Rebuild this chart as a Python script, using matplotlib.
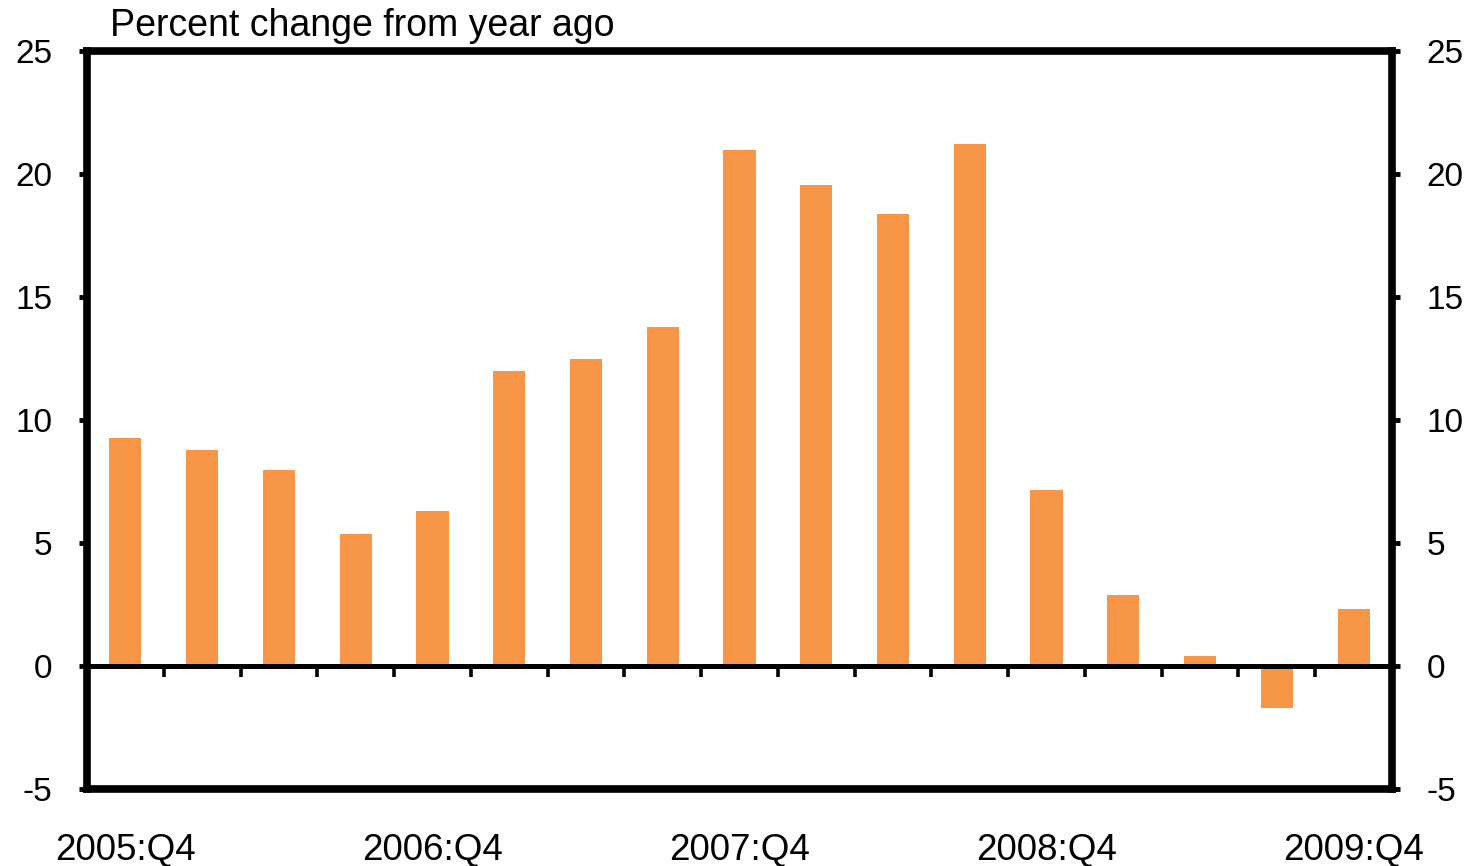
import numpy as np
import matplotlib.pyplot as plt

plt.rcParams['font.family'] = ['Liberation Sans', 'DejaVu Sans']
plt.rcParams['axes.unicode_minus'] = False

# Year-over-year percent change, 2005:Q4 .. 2009:Q4
quarters = ['2005:Q4', '2006:Q1', '2006:Q2', '2006:Q3', '2006:Q4',
            '2007:Q1', '2007:Q2', '2007:Q3', '2007:Q4',
            '2008:Q1', '2008:Q2', '2008:Q3', '2008:Q4',
            '2009:Q1', '2009:Q2', '2009:Q3', '2009:Q4']
pct_change = [9.27, 8.78, 7.97, 5.37, 6.30, 11.99, 12.48, 13.78, 20.98,
              19.55, 18.37, 21.22, 7.15, 2.89, 0.41, -1.71, 2.32]
yticks = [-5, 0, 5, 10, 15, 20, 25]

x = np.arange(len(quarters))

fig = plt.figure(figsize=(14.79, 8.66), dpi=100)
ax = fig.add_axes([0.0588, 0.0889, 0.8824, 0.8522])

ax.bar(x, pct_change, width=0.42, color='#F79646', zorder=2)
ax.axhline(0, color='black', lw=3.6, zorder=3)
# small tick marks on the zero line between quarters
ax.vlines(x[:-1] + 0.5, -0.45, 0, color='black', lw=2.6, zorder=3)

ax.set_xlim(-0.5, len(quarters) - 0.5)
ax.set_ylim(-5, 25)

for sp in ax.spines.values():
    sp.set_linewidth(5.5)
    sp.set_capstyle('projecting')

ax.set_yticks(yticks)
ax.tick_params(axis='y', which='both', left=True, right=True,
               labelleft=True, labelright=True, direction='out',
               length=6, width=3.5, pad=19, labelsize=24)
ax.set_xticks(x[::4])
ax.set_xticklabels(quarters[::4])
ax.tick_params(axis='x', length=0, pad=32, labelsize=26.5)

ax.text(0.0176, 1.02, 'Percent change from year ago', transform=ax.transAxes,
        fontsize=27, ha='left', va='baseline')

fig.savefig('out.png', dpi=100)
